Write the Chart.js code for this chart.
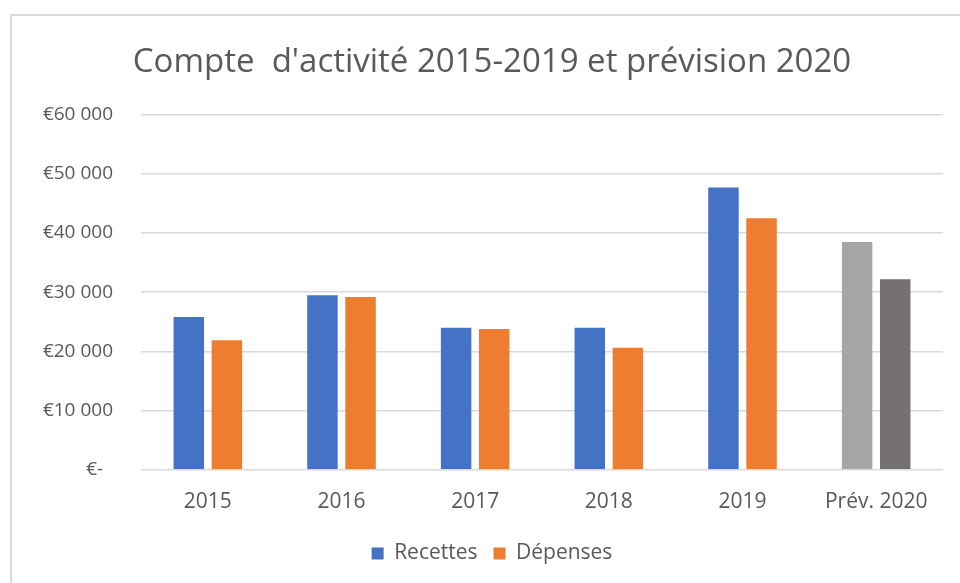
<!DOCTYPE html>
<html><head><meta charset="utf-8">
<script src="https://cdn.jsdelivr.net/npm/chart.js@4.4.1/dist/chart.umd.min.js"></script>
<style>
html,body{margin:0;padding:0;background:#fff;}
#wrap{position:relative;width:960px;height:583px;overflow:hidden;}
#frame{position:absolute;left:10px;top:14px;width:960px;height:600px;border-top:2px solid #d9d9d9;border-left:2px solid #d9d9d9;pointer-events:none;}
canvas{position:absolute;left:0;top:0;}
</style></head><body>
<div id="wrap"><canvas id="c" width="960" height="583"></canvas><div id="frame"></div></div>
<script>
const categories = ['2015', '2016', '2017', '2018', '2019', 'Prév. 2020'];
const recettes = [25800, 29500, 24000, 24000, 47700, 38500];
const depenses = [21900, 29200, 23800, 20600, 42500, 32200];
const yTickValues = [0, 10000, 20000, 30000, 40000, 50000, 60000];
const yTickLabels = ['€-  ', '€10 000', '€20 000', '€30 000', '€40 000', '€50 000', '€60 000'];
const titleText = "Compte  d'activité 2015-2019 et prévision 2020";

const FONT = "'Open Sans', sans-serif";
const TXT = '#595959';

new Chart(document.getElementById('c'), {
  type: 'bar',
  data: {
    labels: categories,
    datasets: [
      {
        label: 'Recettes',
        data: recettes,
        backgroundColor: ctx => ctx.dataIndex === 5 ? '#A5A5A5' : '#4472C4',
        categoryPercentage: 0.57,
        barPercentage: 0.8
      },
      {
        label: 'Dépenses',
        data: depenses,
        backgroundColor: ctx => ctx.dataIndex === 5 ? '#767171' : '#ED7D31',
        categoryPercentage: 0.57,
        barPercentage: 0.8
      }
    ]
  },
  options: {
    responsive: false,
    animation: false,
    devicePixelRatio: 1,
    layout: { padding: { top: 0, left: 41, right: 17, bottom: 9 } },
    plugins: {
      title: {
        display: true,
        text: titleText,
        color: TXT,
        font: { family: FONT, size: 33, weight: 'normal' },
        padding: { top: 43, bottom: 32 }
      },
      legend: {
        position: 'bottom',
        labels: {
          color: TXT,
          font: { family: FONT, size: 21 },
          boxWidth: 12,
          boxHeight: 12,
          padding: 16
        }
      },
      tooltip: { enabled: false }
    },
    scales: {
      x: {
        grid: { display: false },
        border: { display: false },
        ticks: { color: TXT, font: { family: FONT, size: 21 }, padding: 12, maxRotation: 0 }
      },
      y: {
        min: 0,
        max: 60000,
        afterFit: s => { s.width = 100; },
        afterBuildTicks: s => { s.ticks = yTickValues.map(v => ({ value: v })); },
        grid: { color: '#d9d9d9', lineWidth: 1.5, drawTicks: false },
        border: { display: false },
        ticks: {
          color: TXT,
          font: { family: FONT, size: 19 },
          padding: 28,
          callback: (v) => yTickLabels[yTickValues.indexOf(v)]
        }
      }
    }
  }
});
</script>
</body></html>
